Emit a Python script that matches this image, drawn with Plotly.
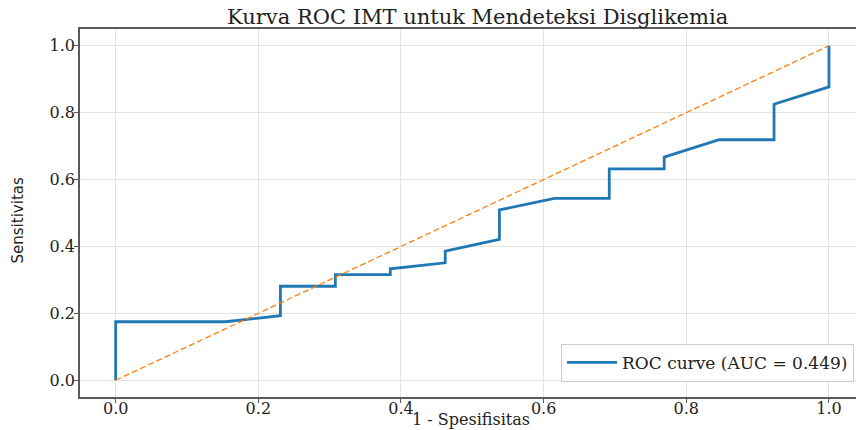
import plotly.graph_objects as go

# Data
fpr = [0.0, 0.0, 0.154, 0.231, 0.231, 0.308, 0.308, 0.385, 0.385, 0.462, 0.462,
       0.538, 0.538, 0.615, 0.692, 0.692, 0.769, 0.769, 0.846, 0.923, 0.923, 1.0, 1.0]
tpr = [0.0, 0.175, 0.175, 0.193, 0.281, 0.281, 0.316, 0.316, 0.333, 0.351, 0.386,
       0.421, 0.509, 0.544, 0.544, 0.632, 0.632, 0.667, 0.719, 0.719, 0.825, 0.877, 1.0]
diag_x = [0.0, 1.0]
diag_y = [0.0, 1.0]
auc = 0.449
tick_vals = [0.0, 0.2, 0.4, 0.6, 0.8, 1.0]

title_text = "Kurva ROC IMT untuk Mendeteksi Disglikemia"
x_label = "1 - Spesifisitas"
y_label = "Sensitivitas"

serif = "DejaVu Serif"

fig = go.Figure()
fig.add_trace(go.Scatter(
    x=fpr, y=tpr, mode="lines",
    line=dict(color="#1f77b4", width=2.8),
    name=f"ROC curve (AUC = {auc:.3f})",
))
fig.add_trace(go.Scatter(
    x=diag_x, y=diag_y, mode="lines",
    line=dict(color="#ff7f0e", width=1.3, dash="6px,3px"),
    showlegend=False,
))

axis_common = dict(
    showgrid=True, gridcolor="#e3e3e3", gridwidth=1,
    showline=True, linecolor="#5a5a5a", linewidth=1.6,
    ticks="outside", ticklen=4, tickwidth=1, tickcolor="#5a5a5a",
    tickvals=tick_vals, tickformat=".1f",
    tickfont=dict(family=serif, size=16, color="#222222"),
    zeroline=False, automargin=False,
)

fig.update_layout(
    width=856, height=430,
    margin=dict(l=80, r=0, t=29, b=33),
    paper_bgcolor="white", plot_bgcolor="white",
    title=dict(text=title_text, x=0.558, xanchor="center", xref="container",
               y=1 - 17 / 430, yanchor="middle", yref="container",
               font=dict(family=serif, size=21, color="#222222")),
    xaxis=dict(range=[-0.05, 1.0379], mirror=True, ticklabelstandoff=-8,
               **axis_common),
    yaxis=dict(range=[-0.05, 1.05], ticklabelstandoff=-4,
               **axis_common),
    legend=dict(x=0.9974, xanchor="right", y=0.041, yanchor="bottom",
                bgcolor="white", bordercolor="#cccccc", borderwidth=1,
                itemwidth=50,
                font=dict(family=serif, size=17, color="#222222")),
    showlegend=True,
)

# Axis titles placed as annotations for precise positioning
fig.add_annotation(text=x_label, xref="paper", yref="paper",
                   x=0.504, y=-0.0924, xanchor="center", yanchor="bottom",
                   showarrow=False,
                   font=dict(family=serif, size=16, color="#222222"))
fig.add_annotation(text=y_label, xref="paper", yref="paper",
                   x=-0.0793, y=0.481, xanchor="center", yanchor="middle",
                   textangle=-90, showarrow=False,
                   font=dict(family="DejaVu Sans", size=15, color="#222222"))

fig.write_html(
    "out.html",
    config={"displayModeBar": False},
    post_script="document.body.style.margin='0';document.body.style.overflow='hidden';",
)
